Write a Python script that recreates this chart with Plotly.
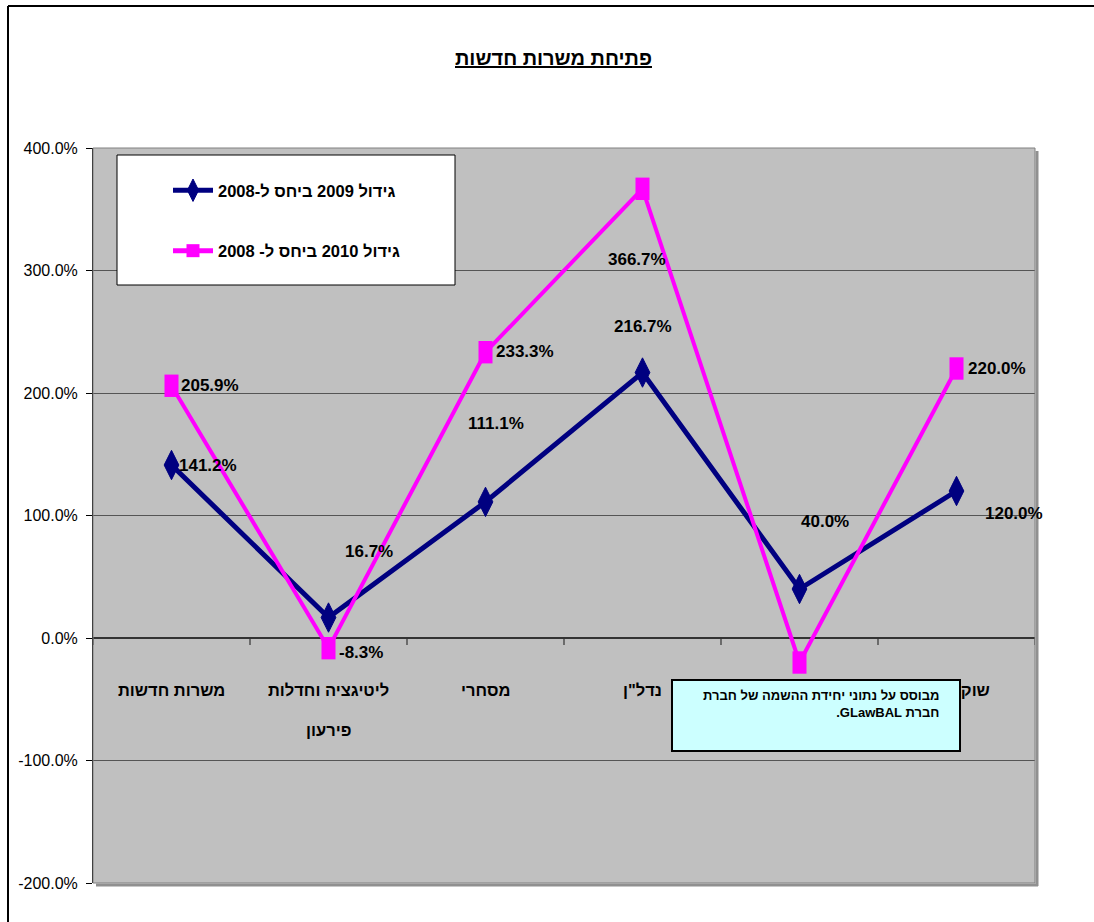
import plotly.graph_objects as go

# ---------------- data ----------------
categories = ["משרות חדשות", "ליטיגציה וחדלות<br>פירעון", "מסחרי", "נדל\"ן", "קניין רוחני", "שוק ההון"]
growth_2009 = [141.2, 16.7, 111.1, 216.7, 40.0, 120.0]
growth_2010 = [205.9, -8.3, 233.3, 366.7, -20.0, 220.0]
show_label_2010 = [True, True, True, True, False, True]
show_category_label = [True, True, True, True, False, True]  # 5th is hidden behind the note box
series_names = ["גידול 2009 ביחס ל-2008", "גידול 2010 ביחס ל- 2008"]
y_ticks = [-200, -100, 0, 100, 200, 300, 400]
title_text = "פתיחת משרות חדשות"
note_lines = ["מבוסס על נתוני יחידת ההשמה של חברת", "\u202bחברת GLawBAL.\u202c"]

# ---------------- style ----------------
W, H = 1094, 922
L, R, T, B = 93, 1035, 148, 883  # plot area in pixels
NAVY = "#000080"
MAGENTA = "#FF00FF"
NARROW = "Liberation Sans Narrow, Arial Narrow, Liberation Sans, Arial, sans-serif"
SANS = "Liberation Sans, Arial, sans-serif"

# label offsets (pixels) relative to the point
off_2009 = [(36, 0), (40, 66), (10, 78), (0, 46), (25, 68), (57, -22)]
off_2010 = [(38, 0), (32, -4), (39, 1), (-6, -71), (0, 0), (40, 0)]


def px(xp):
    return (xp - L) / (R - L)


def py(yp):
    return (B - yp) / (B - T)


xs = list(range(len(categories)))

fig = go.Figure()
fig.add_trace(go.Scatter(
    x=xs, y=growth_2009, mode="lines+markers", name=series_names[0],
    legendgroup="a",
    line=dict(color=NAVY, width=5),
    marker=dict(symbol="diamond-tall", size=21, color=NAVY, line=dict(color=NAVY, width=1)),
    cliponaxis=False,
))
fig.add_trace(go.Scatter(
    x=xs, y=growth_2010, mode="lines+markers", name=series_names[1],
    legendgroup="b", showlegend=False,
    line=dict(color=MAGENTA, width=4),
    marker=dict(symbol="line-ns", size=16, color=MAGENTA, line=dict(color=MAGENTA, width=14)),
    cliponaxis=False,
))
# legend proxy for the second series (draws nothing on the plot)
fig.add_trace(go.Scatter(
    x=[xs[0]], y=[None], mode="lines+markers", name=series_names[1],
    legendgroup="b",
    line=dict(color=MAGENTA, width=5),
    marker=dict(symbol="square", size=13, color=MAGENTA),
))

annotations = []
# category labels, placed next to the zero line
for i, cat in enumerate(categories):
    if not show_category_label[i]:
        continue
    for k, line in enumerate(cat.split("<br>")):
        annotations.append(dict(
            x=i, y=0, xref="x", yref="y", text=line, showarrow=False,
            xanchor="center", yanchor="middle", yshift=-52 - 40 * k,
            font=dict(family=NARROW, size=16.5, color="black", weight="bold"),
        ))
# data labels
LABEL_FONT = dict(family=NARROW, size=17, color="black", weight="bold")
for i, v in enumerate(growth_2009):
    dx, dy = off_2009[i]
    annotations.append(dict(
        x=i, y=v, xref="x", yref="y", text=f"{v:.1f}%", showarrow=False,
        xanchor="center", yanchor="middle", xshift=dx, yshift=dy, font=LABEL_FONT,
    ))
for i, v in enumerate(growth_2010):
    if not show_label_2010[i]:
        continue
    dx, dy = off_2010[i]
    annotations.append(dict(
        x=i, y=v, xref="x", yref="y", text=f"{v:.1f}%", showarrow=False,
        xanchor="center", yanchor="middle", xshift=dx, yshift=dy, font=LABEL_FONT,
    ))
# note box
annotations.append(dict(
    x=px((671 + 961) / 2), y=py((679 + 752) / 2), xref="paper", yref="paper",
    text="\u00a0", showarrow=False, xanchor="center", yanchor="middle",
    width=286, height=69, bgcolor="#CCFFFF", bordercolor="black", borderwidth=2, borderpad=0,
))
annotations.append(dict(
    x=px(941), y=py(686), xref="paper", yref="paper",
    text="<br>".join(note_lines), showarrow=False,
    xanchor="right", yanchor="top", align="right",
    font=dict(family=SANS, size=13, color="black", weight="bold"),
))
# title
annotations.append(dict(
    x=px(553), y=py(58), xref="paper", yref="paper",
    text=f"<u>{title_text}</u>", showarrow=False, xanchor="center", yanchor="middle",
    font=dict(family=NARROW, size=20, color="black", weight="bold"),
))

shapes = []
# category boundary ticks on the zero line
for k in range(len(categories) + 1):
    shapes.append(dict(
        type="line", xref="x", yref="y", x0=k - 0.5, x1=k - 0.5,
        ysizemode="pixel", yanchor=0, y0=0, y1=-7,
        line=dict(color="#333333", width=1.2),
    ))
# plot-area border and shadow
shapes.append(dict(type="rect", xref="paper", yref="paper", x0=0, x1=1, y0=0, y1=1,
                   line=dict(color="#808080", width=1), layer="above"))
shapes.append(dict(type="line", xref="paper", yref="paper", x0=px(R + 2), x1=px(R + 2),
                   y0=py(B + 3), y1=py(T + 3), line=dict(color="#909090", width=3)))
shapes.append(dict(type="line", xref="paper", yref="paper", x0=px(L + 3), x1=px(R + 3),
                   y0=py(B + 2), y1=py(B + 2), line=dict(color="#909090", width=3)))
# legend box
shapes.append(dict(type="rect", xref="paper", yref="paper", x0=px(117), x1=px(455),
                   y0=py(285), y1=py(155), fillcolor="white",
                   line=dict(color="black", width=1), layer="above"))
# outer chart frame
shapes.append(dict(type="line", xref="paper", yref="paper", x0=px(8), x1=px(8),
                   y0=py(H + 10), y1=py(6), line=dict(color="black", width=2)))
shapes.append(dict(type="line", xref="paper", yref="paper", x0=px(8), x1=px(W + 10),
                   y0=py(6), y1=py(6), line=dict(color="black", width=2)))

fig.update_layout(
    width=W, height=H, autosize=False,
    margin=dict(l=L, r=W - R, t=T, b=H - B, pad=0),
    paper_bgcolor="white", plot_bgcolor="#C0C0C0",
    showlegend=True,
    legend=dict(
        x=px(168), y=py(173), xanchor="left", yanchor="top",
        bgcolor="rgba(0,0,0,0)", borderwidth=0,
        traceorder="grouped", tracegroupgap=36,
        itemwidth=40,
        font=dict(family=NARROW, size=16.5, color="black", weight="bold"),
    ),
    xaxis=dict(
        range=[-0.5, len(categories) - 0.5], showticklabels=False, showgrid=False,
        zeroline=False, showline=False, ticks="", fixedrange=True,
    ),
    yaxis=dict(
        range=[y_ticks[0], y_ticks[-1]], tickvals=y_ticks,
        ticktext=[f"{v:.1f}%" for v in y_ticks],
        showgrid=True, gridcolor="#555555", gridwidth=1,
        zeroline=True, zerolinecolor="#333333", zerolinewidth=1.5,
        showline=True, linecolor="black", linewidth=1,
        ticks="outside", ticklen=6, tickcolor="black",
        ticklabelstandoff=5,
        tickfont=dict(family=SANS, size=16, color="black"),
        fixedrange=True,
    ),
    annotations=annotations,
    shapes=shapes,
)

fig.write_html("out.html")
